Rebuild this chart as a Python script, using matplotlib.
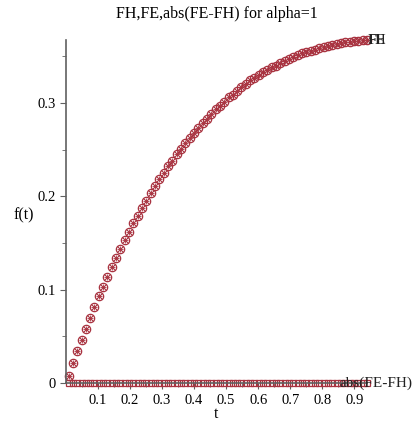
import matplotlib.pyplot as plt

# values (t, FH ~ FE, difference ~ 0)
t = [0.008, 0.0215, 0.035, 0.0485, 0.062, 0.0755, 0.089, 0.1025, 0.116, 0.1295,
     0.143, 0.1565, 0.17, 0.1835, 0.197, 0.2105, 0.224, 0.2375, 0.251, 0.2645,
     0.278, 0.2915, 0.305, 0.3185, 0.332, 0.3455, 0.359, 0.3725, 0.386, 0.3995,
     0.413, 0.4265, 0.44, 0.4535, 0.467, 0.4805, 0.494, 0.5075, 0.521, 0.5345,
     0.548, 0.5615, 0.575, 0.5885, 0.602, 0.6155, 0.629, 0.6425, 0.656, 0.6695,
     0.683, 0.6965, 0.71, 0.7235, 0.737, 0.7505, 0.764, 0.7775, 0.791, 0.8045,
     0.818, 0.8315, 0.845, 0.8585, 0.872, 0.8855, 0.899, 0.9125, 0.926, 0.9395]
FH = [0.008, 0.021, 0.034, 0.046, 0.058, 0.070, 0.081, 0.093, 0.103, 0.114,
      0.124, 0.134, 0.143, 0.153, 0.162, 0.171, 0.179, 0.187, 0.195, 0.203,
      0.211, 0.218, 0.225, 0.232, 0.238, 0.245, 0.251, 0.257, 0.262, 0.268,
      0.273, 0.278, 0.283, 0.288, 0.293, 0.297, 0.301, 0.306, 0.309, 0.313,
      0.317, 0.320, 0.324, 0.327, 0.330, 0.333, 0.335, 0.338, 0.340, 0.343,
      0.345, 0.347, 0.349, 0.351, 0.353, 0.354, 0.356, 0.357, 0.359, 0.360,
      0.361, 0.362, 0.363, 0.364, 0.365, 0.365, 0.366, 0.366, 0.367, 0.367]
FE = list(FH)
diff = [0.0] * len(t)

xticks = [0.1, 0.2, 0.3, 0.4, 0.5, 0.6, 0.7, 0.8, 0.9]
yticks = [0, 0.1, 0.2, 0.3]

plt.rcParams['font.family'] = ['Liberation Serif', 'DejaVu Serif']
col = '#a8323f'

fig = plt.figure(figsize=(4.15, 4.23), dpi=100)
ax = fig.add_axes([0.159, 0.0946, 0.725, 0.81])

ax.plot(t, FH, 'o', ms=6, mfc='none', mec=col, mew=0.9, clip_on=False)
ax.plot(t, FE, 'x', ms=4, mec=col, mew=0.8, clip_on=False)
ax.plot(t, FE, '+', ms=4.5, mec=col, mew=0.6, clip_on=False)
ax.plot(t, diff, 's', ms=4, mfc='none', mec=col, mew=0.9, clip_on=False)

ax.set_xlim(0, t[-1])
ax.set_ylim(0, FH[-1])
for s in ['top', 'right']:
    ax.spines[s].set_visible(False)
for s in ['left', 'bottom']:
    ax.spines[s].set_color('#606060')
    ax.spines[s].set_linewidth(1.2)

ax.set_xticks(xticks)
ax.set_xticklabels([str(v) for v in xticks])
ax.set_xticks([0.05 + 0.1 * i for i in range(9)], minor=True)
ax.set_yticks(yticks)
ax.set_yticklabels(['0', '0.1', '0.2', '0.3'])
ax.set_yticks([0.05, 0.15, 0.25, 0.35], minor=True)
ax.tick_params(which='both', colors='#606060', labelcolor='black', labelsize=10.5)
ax.tick_params(which='major', length=4)
ax.tick_params(which='minor', length=3)
ax.tick_params(axis='x', pad=4)

ax.set_title('FH,FE,abs(FE-FH) for alpha=1', fontsize=11.5, pad=16)
ax.set_xlabel('t', fontsize=11.5, labelpad=-1)
ax.set_ylabel('f(t)', fontsize=11.5, rotation=0, va='center')
ax.yaxis.set_label_coords(-0.14, 0.49)

ax.text(t[-1] + 0.003, FH[-1], 'FH', fontsize=10.5, va='center', ha='left', color='#222222')
ax.text(t[-1] + 0.006, FE[-1], 'FE', fontsize=10.5, va='center', ha='left', color='#222222')
ax.text(t[-1] - 0.085, 0.0, 'abs(FE-FH)', fontsize=11, va='center', ha='left', color='#222222')

fig.savefig('out.png', dpi=100)
